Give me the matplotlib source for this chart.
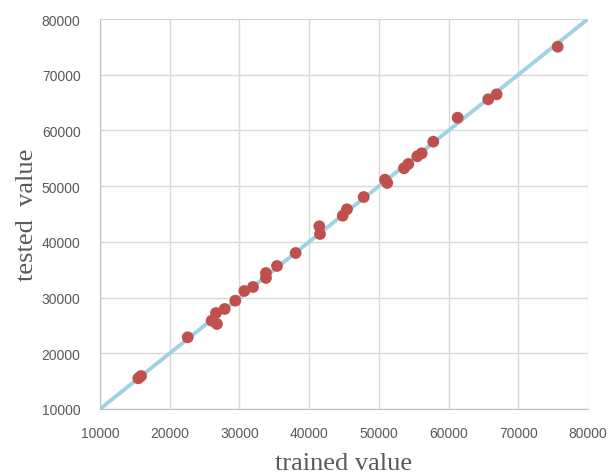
import matplotlib.pyplot as plt

# trained vs tested values
trained = [15490, 15880, 22580, 26020, 26640, 26780, 27890, 29410, 30700, 31950,
           33810, 33810, 35390, 38070, 41460, 41560, 44820, 45430, 47830, 50880,
           51210, 53610, 54230, 55520, 56150, 57810, 61310, 65700, 66900, 75660]
tested = [15510, 15920, 22870, 25850, 27230, 25260, 27950, 29440, 31180, 31900,
          34410, 33520, 35670, 38000, 42800, 41410, 44700, 45850, 48050, 51160,
          50570, 53210, 53980, 55360, 55900, 57980, 62290, 65590, 66490, 75030]

# reference line y = x
ref_line = [10000, 80000]
ticks = [10000, 20000, 30000, 40000, 50000, 60000, 70000, 80000]

fig = plt.figure(figsize=(6.08, 4.77), dpi=100)
ax = fig.add_axes([0.1645, 0.1405, 0.8025, 0.8175])

ax.plot(ref_line, ref_line, color='#9DD3E3', linewidth=2.8, zorder=2)
ax.scatter(trained, tested, s=72, color='#C0504D', edgecolors='none', zorder=3)

ax.set_xlim(10000, 80000)
ax.set_ylim(10000, 80000)
ax.set_xticks(ticks)
ax.set_yticks(ticks)
ax.tick_params(length=0, labelsize=10, labelcolor='#595959', pad=14)
ax.tick_params(axis='x', pad=12)
for lab in ax.get_xticklabels() + ax.get_yticklabels():
    lab.set_family('Liberation Sans')

ax.grid(True, color='#D9D9D9', linewidth=1, zorder=0)
ax.set_axisbelow(True)
for side in ['top', 'right']:
    ax.spines[side].set_visible(False)
for side in ['left', 'bottom']:
    ax.spines[side].set_color('#BFBFBF')

ax.set_xlabel('trained value', fontsize=19, family='Liberation Serif', color='#595959', labelpad=9)
ax.set_ylabel('tested  value', fontsize=19, family='Liberation Serif', color='#595959', labelpad=3)

plt.savefig('out.png', dpi=100)
plt.close()
